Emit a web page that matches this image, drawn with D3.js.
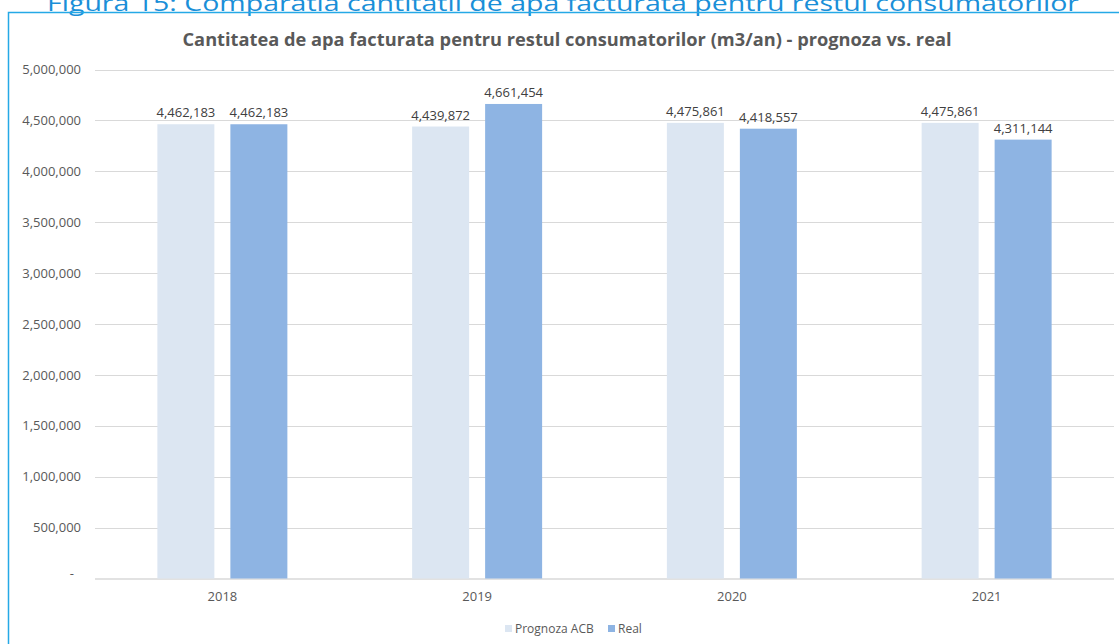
<!DOCTYPE html>
<html>
<head>
<meta charset="utf-8">
<script src="https://cdn.jsdelivr.net/npm/d3@7"></script>
<style>
  html, body { margin: 0; padding: 0; background: #fff; }
  svg { display: block; }
</style>
</head>
<body>
<svg id="chart" width="1119" height="644"></svg>
<script>
// data
const years = ["2018", "2019", "2020", "2021"];
const prognoza = [4462183, 4439872, 4475861, 4475861];
const real = [4462183, 4661454, 4418557, 4311144];
const seriesNames = ["Prognoza ACB", "Real"];
const yTicks = [0, 500000, 1000000, 1500000, 2000000, 2500000, 3000000, 3500000, 4000000, 4500000, 5000000];

const colors = ["#dce6f2", "#8eb4e3"];
const font = "'Open Sans', sans-serif";

const svg = d3.select("#chart");

// caption above the frame (cut at top in the original)
svg.append("text")
    .attr("x", 563).attr("y", 11)
    .attr("text-anchor", "middle")
    .attr("font-family", font)
    .attr("font-size", 22)
    .attr("fill", "#1a8fd8")
    .attr("textLength", 1032)
    .attr("lengthAdjust", "spacingAndGlyphs")
    .text("Figura 15: Comparatia cantitatii de apa facturata pentru restul consumatorilor");

// frame
svg.append("rect")
    .attr("x", 8.5).attr("y", 12.5)
    .attr("width", 1120).attr("height", 640)
    .attr("fill", "none")
    .attr("stroke", "#25a9e6")
    .attr("stroke-width", 1.5);

svg.append("text")
    .attr("x", 567).attr("y", 46)
    .attr("text-anchor", "middle")
    .attr("font-family", font)
    .attr("font-size", 17)
    .attr("font-weight", "bold")
    .attr("fill", "#595959")
    .attr("textLength", 769)
    .attr("lengthAdjust", "spacingAndGlyphs")
    .text("Cantitatea de apa facturata pentru restul consumatorilor (m3/an) - prognoza vs. real");

const plotL = 95, plotR = 1114, plotT = 69.5, plotB = 578.5;

const x = d3.scaleBand().domain(years).range([plotL, plotR]);
const y = d3.scaleLinear().domain([0, 5000000]).range([plotB, plotT]);

const fmt = d3.format(",");

// gridlines
svg.append("g")
  .selectAll("line")
  .data(yTicks.filter(d => d > 0))
  .join("line")
    .attr("x1", plotL).attr("x2", plotR)
    .attr("y1", d => Math.round(y(d)) + 0.5)
    .attr("y2", d => Math.round(y(d)) + 0.5)
    .attr("stroke", "#d9d9d9");

// y axis labels
const yAxis = svg.append("g")
    .attr("transform", `translate(${plotL - 14},0)`)
    .call(d3.axisLeft(y).tickValues(yTicks).tickSize(0).tickPadding(0)
      .tickFormat(d => d === 0 ? "-" : fmt(d)));
yAxis.select(".domain").remove();
yAxis.selectAll("text")
    .attr("font-family", font)
    .attr("font-size", 13)
    .attr("fill", "#595959");
yAxis.selectAll(".tick").filter(d => d === 0).select("text")
    .attr("dx", -7).attr("dy", "-0.1em");

// x baseline
svg.append("line")
    .attr("x1", plotL).attr("x2", plotR)
    .attr("y1", plotB + 0.5).attr("y2", plotB + 0.5)
    .attr("stroke", "#d9d9d9")
    .attr("stroke-width", 1.5);

// bars
const barW = 57, gap = 16;
const groups = svg.append("g")
  .selectAll("g")
  .data(years)
  .join("g")
    .attr("transform", d => `translate(${x(d) + x.bandwidth() / 2},0)`);

[prognoza, real].forEach((vals, s) => {
  const off = s === 0 ? -(barW + gap / 2) : gap / 2;
  groups.append("rect")
      .attr("x", off)
      .attr("y", (d, i) => y(vals[i]))
      .attr("width", barW)
      .attr("height", (d, i) => plotB - y(vals[i]))
      .attr("fill", colors[s]);
  groups.append("text")
      .attr("x", off + barW / 2)
      .attr("y", (d, i) => y(vals[i]) - 7)
      .attr("text-anchor", "middle")
      .attr("font-family", font)
      .attr("font-size", 13)
      .attr("fill", "#404040")
      .text((d, i) => fmt(vals[i]));
});

// x axis labels
const xAxis = svg.append("g")
    .attr("transform", `translate(0,${plotB})`)
    .call(d3.axisBottom(x).tickSize(0).tickPadding(13));
xAxis.select(".domain").remove();
xAxis.selectAll("text")
    .attr("font-family", font)
    .attr("font-size", 13)
    .attr("fill", "#595959");

// legend
const legend = svg.append("g").attr("transform", "translate(505,629)");
const lx = [0, 103];
seriesNames.forEach((name, i) => {
  legend.append("rect")
      .attr("x", lx[i]).attr("y", -4)
      .attr("width", 7).attr("height", 7)
      .attr("fill", colors[i]);
  legend.append("text")
      .attr("x", lx[i] + 10).attr("y", 4)
      .attr("font-family", font)
      .attr("font-size", 12)
      .attr("fill", "#595959")
      .text(name);
});
</script>
</body>
</html>
